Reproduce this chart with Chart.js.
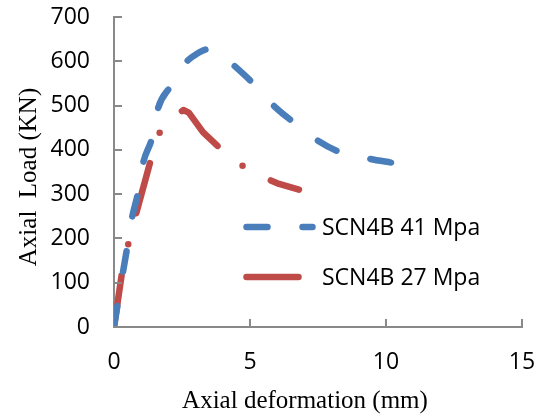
<!DOCTYPE html>
<html>
<head>
<meta charset="utf-8">
<script src="https://cdn.jsdelivr.net/npm/chart.js@4.4.1/dist/chart.umd.min.js"></script>
<style>
  html, body { margin: 0; padding: 0; background: #fff; }
  #wrap { width: 547px; height: 418px; }
</style>
</head>
<body>
<div id="wrap"><canvas id="c" width="547" height="418"></canvas></div>
<script>
// Data
const seriesNames = ['SCN4B 41 Mpa', 'SCN4B 27 Mpa'];
const xTitle = 'Axial deformation (mm)';
const yTitle = 'Axial  Load (KN)';
const blueX = [0, 0.25, 0.48, 0.66, 0.88, 1.07, 1.4, 1.62, 2.06, 2.4, 2.68, 3.0, 3.46, 3.8, 4.4, 5.1, 5.85, 6.5, 7.46, 8.3, 9.3, 10.3];
const blueY = [0, 95, 178, 246, 302, 370, 427, 494, 542, 575, 600, 615, 627, 622, 591, 551, 501, 467, 422, 395, 381, 370];
const redX = [0, 0.3, 0.55, 0.85, 1.4, 1.76, 2.55, 2.75, 3.27, 4.08, 5.04, 6.07, 6.8];
const redY = [0, 125, 194, 264, 388, 454, 490, 484, 440, 393, 350, 323, 310];
const xTicks = [0, 5, 10, 15];
const yTicks = [0, 100, 200, 300, 400, 500, 600, 700];

const BLUE = '#4A7EBB';
const RED = '#BE4B48';
const AXIS = '#898989';
const blueDash = [21, 35];
const redDash = [52, 32, 0, 32];

function pts(xs, ys) { return xs.map((x, i) => ({ x: x, y: ys[i] })); }

const insideTicks = {
  id: 'insideTicks',
  afterDatasetsDraw(chart) {
    const ctx = chart.ctx;
    const xs = chart.scales.x, ys = chart.scales.y;
    const x0 = xs.getPixelForValue(0), y0 = ys.getPixelForValue(0);
    ctx.save();
    ctx.strokeStyle = AXIS;
    ctx.lineWidth = 2;
    yTicks.forEach(v => {
      const y = Math.round(ys.getPixelForValue(v));
      ctx.beginPath(); ctx.moveTo(x0, y); ctx.lineTo(x0 + 8, y); ctx.stroke();
    });
    xTicks.forEach(v => {
      if (v === 0) return;
      const x = Math.round(xs.getPixelForValue(v));
      ctx.beginPath(); ctx.moveTo(x, y0); ctx.lineTo(x, y0 - 8); ctx.stroke();
    });
    ctx.restore();
  }
};

const customText = {
  id: 'customText',
  afterDraw(chart) {
    const ctx = chart.ctx;
    const items = [
      { name: seriesNames[0], color: BLUE, dash: blueDash, y: 227 },
      { name: seriesNames[1], color: RED, dash: redDash, y: 277 }
    ];
    ctx.save();
    items.forEach(it => {
      ctx.strokeStyle = it.color;
      ctx.lineWidth = 6.5;
      ctx.lineCap = 'round';
      ctx.setLineDash(it.dash);
      ctx.beginPath(); ctx.moveTo(246.5, it.y); ctx.lineTo(312.5, it.y); ctx.stroke();
      ctx.setLineDash([]);
      ctx.fillStyle = '#000';
      ctx.font = '23px "Open Sans"';
      ctx.textBaseline = 'middle';
      ctx.textAlign = 'left';
      ctx.fillText(it.name, 322, it.y + 1);
    });
    // axis titles
    ctx.fillStyle = '#000';
    ctx.font = '25px "Liberation Serif"';
    ctx.textAlign = 'center';
    ctx.textBaseline = 'middle';
    ctx.fillText(xTitle, 305, 401);
    ctx.translate(29, 177);
    ctx.rotate(-Math.PI / 2);
    ctx.fillText(yTitle, 0, 0);
    ctx.restore();
  }
};

new Chart(document.getElementById('c'), {
  type: 'line',
  data: {
    datasets: [
      { label: seriesNames[0], data: pts(blueX, blueY), borderColor: BLUE, borderWidth: 6.5,
        borderDash: blueDash, borderCapStyle: 'round', borderJoinStyle: 'round',
        pointRadius: 0, cubicInterpolationMode: 'monotone', fill: false },
      { label: seriesNames[1], data: pts(redX, redY), borderColor: RED, borderWidth: 6.5,
        borderDash: redDash, borderCapStyle: 'round', borderJoinStyle: 'round',
        pointRadius: 0, tension: 0, fill: false }
    ]
  },
  options: {
    responsive: false,
    animation: false,
    layout: { padding: { left: 14, right: 25, top: 17, bottom: 2 } },
    plugins: { legend: { display: false }, tooltip: { enabled: false } },
    scales: {
      x: {
        type: 'linear', min: 0, max: 15,
        afterBuildTicks: s => { s.ticks = xTicks.map(v => ({ value: v })); },
        afterFit: s => { s.height = 89; s.paddingLeft = 0; s.paddingRight = 0; },
        grid: { display: false, drawTicks: false },
        border: { display: true, color: AXIS, width: 2 },
        ticks: { padding: 22, color: '#000', font: { family: 'Open Sans', size: 23 }, maxRotation: 0 },
        title: { display: false }
      },
      y: {
        min: 0, max: 700,
        afterBuildTicks: s => { s.ticks = yTicks.map(v => ({ value: v })); },
        afterFit: s => { s.width = 100; s.paddingTop = 0; s.paddingBottom = 0; },
        grid: { display: false, drawTicks: false },
        border: { display: true, color: AXIS, width: 2 },
        ticks: { padding: 24, color: '#000', font: { family: 'Open Sans', size: 23 } },
        title: { display: false }
      }
    }
  },
  plugins: [insideTicks, customText]
});
</script>
</body>
</html>
